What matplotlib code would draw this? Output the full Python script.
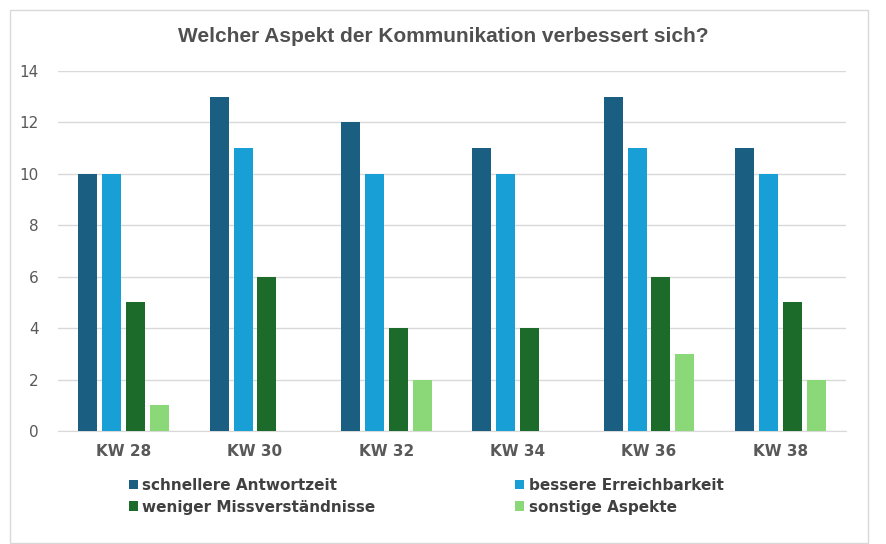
import numpy as np
import matplotlib
matplotlib.use("Agg")
import matplotlib.pyplot as plt
from matplotlib.patches import Rectangle

# Data
weeks = ["KW 28", "KW 30", "KW 32", "KW 34", "KW 36", "KW 38"]
series_names = ["schnellere Antwortzeit", "bessere Erreichbarkeit",
                "weniger Missverständnisse", "sonstige Aspekte"]
antwortzeit = [10, 13, 12, 11, 13, 11]
erreichbarkeit = [10, 11, 10, 10, 11, 10]
missverstaendnisse = [5, 6, 4, 4, 6, 5]
sonstige = [1, 0, 2, 0, 3, 2]
y_ticks = [0, 2, 4, 6, 8, 10, 12, 14]

colors = ["#1A5F82", "#179FD6", "#1D6B2A", "#8AD878"]
text_color = "#595959"

fig = plt.figure(figsize=(8.87, 5.44), dpi=100)
fig.patch.set_facecolor("white")

# outer chart frame
fig.add_artist(Rectangle((10 / 887, 0.002), 858 / 887, 1 - 10 / 544 - 0.002,
                         transform=fig.transFigure, fill=False,
                         edgecolor="#D9D9D9", linewidth=1))

ax = fig.add_axes([58 / 887, 1 - 431 / 544, (846 - 58) / 887, (431 - 71) / 544])

x = np.arange(len(weeks))
width = 0.145
step = 0.182
all_series = [antwortzeit, erreichbarkeit, missverstaendnisse, sonstige]
bars = []
for i, (vals, name, c) in enumerate(zip(all_series, series_names, colors)):
    bars.append(ax.bar(x + (i - 1.5) * step, vals, width, color=c, label=name, zorder=3))

ax.set_ylim(0, 14)
ax.set_xlim(-0.5, len(weeks) - 0.5)
ax.set_yticks(y_ticks)
ax.set_xticks(x)
ax.set_xticklabels(weeks, fontweight="bold", fontsize=11, color=text_color)
ax.tick_params(axis="y", labelsize=11, colors=text_color, length=0, pad=14)
ax.tick_params(axis="x", length=0, pad=9)
ax.grid(axis="y", color="#D9D9D9", linewidth=1, zorder=0)
for s in ["top", "right", "left"]:
    ax.spines[s].set_visible(False)
ax.spines["bottom"].set_color("#D9D9D9")

fig.text(0.5, 1 - 37 / 544, "Welcher Aspekt der Kommunikation verbessert sich?",
         ha="center", va="center", fontsize=15, fontweight="bold",
         color="#505050", family="Liberation Sans")

# row-wise order like the original legend
order = [0, 2, 1, 3]
leg = fig.legend([bars[i] for i in order], [series_names[i] for i in order],
                 loc="upper left", bbox_to_anchor=(115 / 887, 1 - 464 / 544),
                 ncol=2, frameon=False, handlelength=0.6,
                 handleheight=0.6, handletextpad=0.3, columnspacing=9.1,
                 labelspacing=0.45,
                 prop={"weight": "bold", "size": 11})
for t in leg.get_texts():
    t.set_color("#404040")

plt.savefig("out.png", dpi=100, facecolor="white")
plt.close()
